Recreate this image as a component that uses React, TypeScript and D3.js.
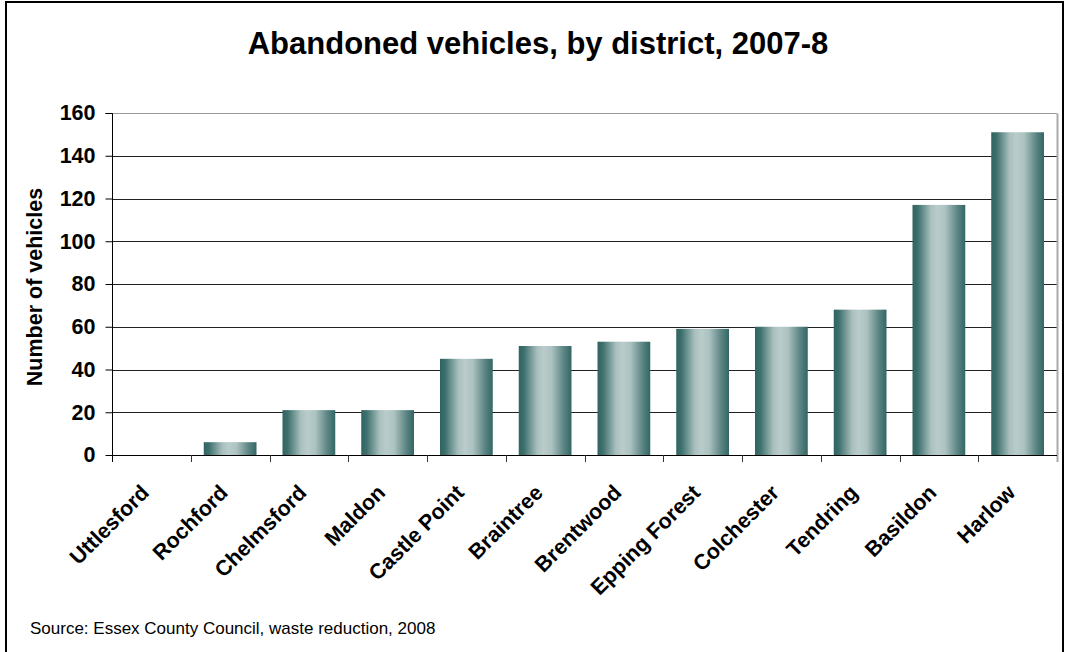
import React, { useEffect, useRef } from "react";
import * as d3 from "d3";

const districts = ["Uttlesford", "Rochford", "Chelmsford", "Maldon", "Castle Point", "Braintree", "Brentwood", "Epping Forest", "Colchester", "Tendring", "Basildon", "Harlow"];
const vehicles = [0, 6, 21, 21, 45, 51, 53, 59, 60, 68, 117, 151];
const yTicks = [0, 20, 40, 60, 80, 100, 120, 140, 160];

const W = 1065, H = 652;
const M = { left: 112, right: 1057, top: 113, bottom: 455 };

export default function App() {
  const ref = useRef<SVGSVGElement>(null);
  useEffect(() => {
    const svg = d3.select(ref.current);
    svg.selectAll("*").remove();
    const font = "Arial, 'Liberation Sans', sans-serif";

    const defs = svg.append("defs");
    const g = defs.append("linearGradient").attr("id", "barGrad").attr("x1", "0").attr("x2", "1").attr("y1", "0").attr("y2", "0");
    [[0, "#2f6461"], [0.1, "#3d706d"], [0.35, "#a9c0be"], [0.47, "#b9cccb"], [0.62, "#adc3c1"], [0.85, "#5c8584"], [1, "#326764"]].forEach(([o, c]) =>
      g.append("stop").attr("offset", o as number).attr("stop-color", c as string));

    svg.append("rect").attr("width", W).attr("height", H).attr("fill", "#fff");
    svg.append("rect").attr("x", 6).attr("y", 2).attr("width", 1057).attr("height", 700)
      .attr("fill", "none").attr("stroke", "#000").attr("stroke-width", 2);

    const x = d3.scaleBand().domain(districts).range([M.left, M.right]).paddingInner(0.33).paddingOuter(0.165);
    const y = d3.scaleLinear().domain([0, 160]).range([M.bottom, M.top]);

    // gridlines
    svg.append("g").selectAll("line").data(yTicks.filter(t => t > 0)).join("line")
      .attr("x1", M.left).attr("x2", M.right)
      .attr("y1", d => Math.round(y(d)) + 0.5).attr("y2", d => Math.round(y(d)) + 0.5)
      .attr("stroke", d => d === 160 ? "#999" : "#222").attr("stroke-width", 1);
    // right border of plot
    svg.append("line").attr("x1", M.right + 0.5).attr("x2", M.right + 0.5)
      .attr("y1", Math.round(y(160)) + 0.5).attr("y2", M.bottom + 7).attr("stroke", "#aaa").attr("stroke-width", 2);

    // bars
    svg.append("g").selectAll("rect").data(districts).join("rect")
      .attr("x", d => x(d)!).attr("width", x.bandwidth())
      .attr("y", (d, i) => y(vehicles[i])).attr("height", (d, i) => M.bottom - y(vehicles[i]))
      .attr("fill", "url(#barGrad)");

    // y axis
    const ya = svg.append("g").attr("transform", `translate(${M.left + 0.5},0)`)
      .call(d3.axisLeft(y).tickValues(yTicks).tickSize(7).tickPadding(10).tickFormat(d3.format("d")));
    ya.select(".domain").attr("stroke", "#000").attr("d", `M-7,${Math.round(y(160)) + 0.5}H0V${M.bottom + 7}`);
    ya.selectAll(".tick line").attr("stroke", "#000");
    ya.selectAll("text").attr("font-family", font).attr("font-weight", "bold").attr("font-size", 21.5).attr("fill", "#000");

    // x axis
    const bounds = d3.range(districts.length + 1).map(i => M.left + i * (M.right - M.left) / districts.length);
    svg.append("line").attr("x1", M.left).attr("x2", M.right).attr("y1", M.bottom + 0.5).attr("y2", M.bottom + 0.5).attr("stroke", "#000");
    svg.append("g").selectAll("line").data(bounds.slice(1, -1)).join("line")
      .attr("x1", d => Math.round(d) + 0.5).attr("x2", d => Math.round(d) + 0.5)
      .attr("y1", M.bottom).attr("y2", M.bottom + 7).attr("stroke", "#333");
    svg.append("g").selectAll("text").data(districts).join("text")
      .attr("transform", d => `translate(${x(d)! + x.bandwidth() / 2 - 1},${M.bottom + 39}) rotate(-45)`)
      .attr("text-anchor", "end").attr("font-family", font).attr("font-weight", "bold").attr("font-size", 21.5)
      .text(d => d);

    // title
    svg.append("text").attr("x", 538).attr("y", 54).attr("text-anchor", "middle")
      .attr("font-family", font).attr("font-weight", "bold").attr("font-size", 31).text("Abandoned vehicles, by district, 2007-8");
    // y label
    svg.append("text").attr("transform", `translate(42,${287}) rotate(-90)`).attr("text-anchor", "middle")
      .attr("font-family", font).attr("font-weight", "bold").attr("font-size", 21.5).text("Number of vehicles");
    // source
    svg.append("text").attr("x", 30).attr("y", 634).attr("font-family", font).attr("font-size", 17)
      .text("Source: Essex County Council, waste reduction, 2008");
  }, []);
  return (
    <div style={{ position: "absolute", left: 0, top: 0 }}>
      <svg ref={ref} width={W} height={H} style={{ display: "block" }} />
    </div>
  );
}
